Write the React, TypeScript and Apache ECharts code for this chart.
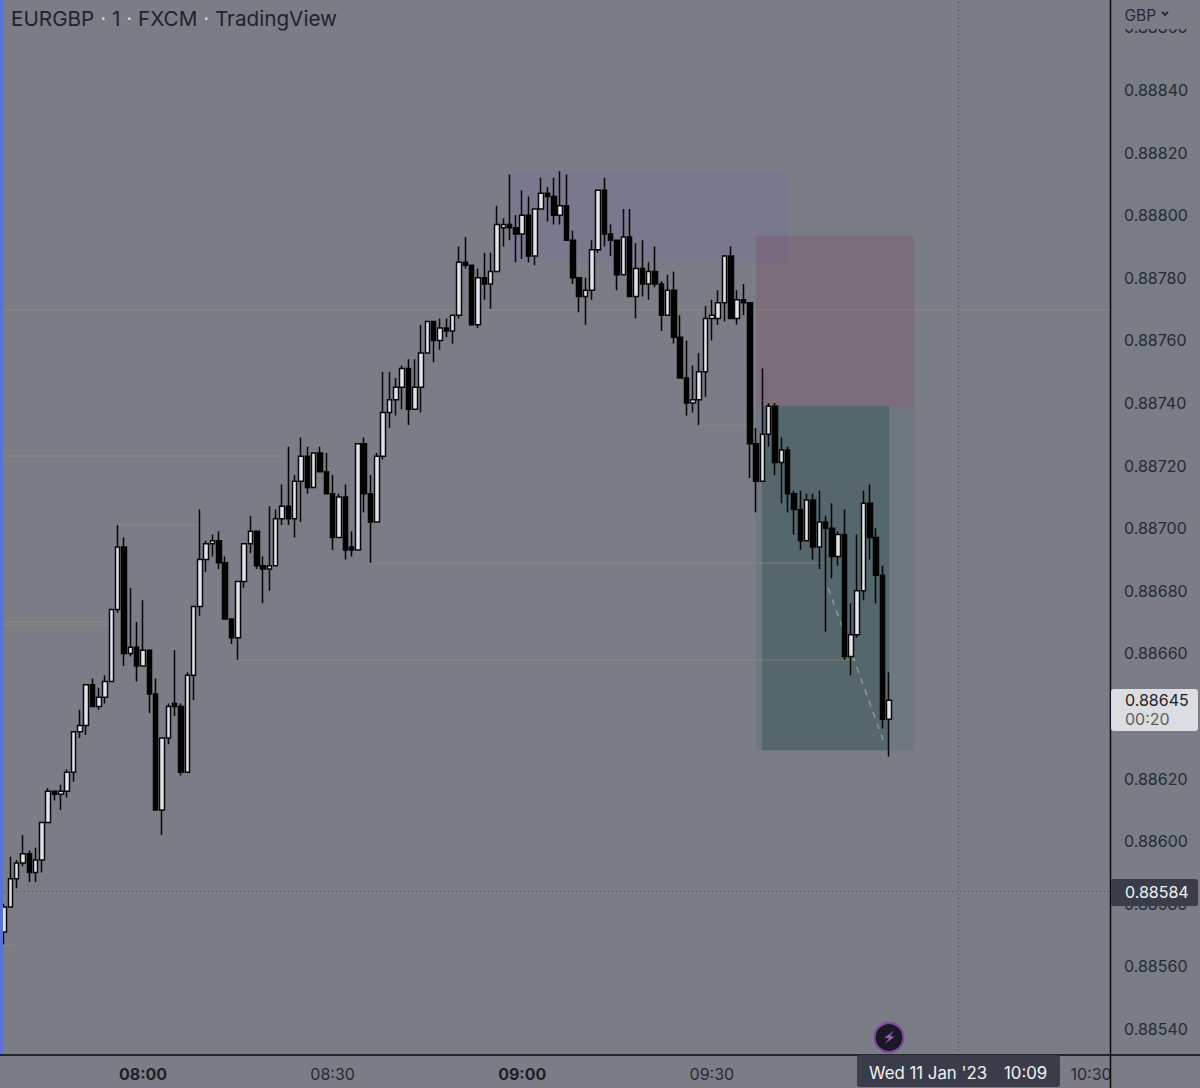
import React, { useEffect, useRef } from "react";
import * as echarts from "echarts";

// 1-minute EURGBP candles, first candle 07:38, Wed 11 Jan 2023
const firstMinute = 458;
const opens = [
  0.88571,0.88579,0.88588,0.88593,0.88596,0.88590,0.88594,0.88606,0.88616,0.88615,
  0.88616,0.88622,0.88635,0.88637,0.88650,0.88643,0.88646,0.88651,0.88674,0.88694,
  0.88660,0.88662,0.88656,0.88661,0.88647,0.88610,0.88633,0.88644,0.88643,0.88622,
  0.88653,0.88675,0.88690,0.88695,0.88696,0.88689,0.88671,0.88665,0.88683,0.88695,
  0.88699,0.88688,0.88687,0.88688,0.88703,0.88707,0.88703,0.88715,0.88723,0.88713,
  0.88724,0.88718,0.88711,0.88697,0.88710,0.88694,0.88693,0.88727,0.88711,0.88702,
  0.88723,0.88737,0.88741,0.88745,0.88751,0.88738,0.88745,0.88756,0.88766,0.88760,
  0.88764,0.88763,0.88768,0.88785,0.88784,0.88765,0.88780,0.88778,0.88782,0.88796,
  0.88797,0.88796,0.88794,0.88800,0.88787,0.88802,0.88807,0.88806,0.88800,0.88803,
  0.88792,0.88780,0.88774,0.88776,0.88789,0.88808,0.88794,0.88792,0.88781,0.88793,
  0.88774,0.88783,0.88778,0.88782,0.88778,0.88768,0.88776,0.88761,0.88748,0.88740,
  0.88741,0.88750,0.88767,0.88767,0.88772,0.88787,0.88767,0.88773,0.88772,0.88727,
  0.88715,0.88730,0.88739,0.88721,0.88725,0.88711,0.88706,0.88696,0.88709,0.88694,
  0.88702,0.88700,0.88691,0.88698,0.88659,0.88666,0.88680,0.88708,0.88697,0.88685,
  0.88639,
];
const closes = [
  0.88579,0.88588,0.88593,0.88596,0.88590,0.88594,0.88606,0.88616,0.88615,0.88616,
  0.88622,0.88635,0.88637,0.88650,0.88643,0.88646,0.88651,0.88674,0.88694,0.88660,
  0.88662,0.88656,0.88661,0.88647,0.88610,0.88633,0.88643,0.88643,0.88622,0.88653,
  0.88675,0.88690,0.88695,0.88696,0.88689,0.88671,0.88665,0.88683,0.88695,0.88699,
  0.88688,0.88687,0.88688,0.88703,0.88707,0.88703,0.88715,0.88723,0.88713,0.88724,
  0.88718,0.88711,0.88697,0.88710,0.88693,0.88693,0.88727,0.88711,0.88702,0.88723,
  0.88737,0.88741,0.88745,0.88751,0.88738,0.88745,0.88756,0.88766,0.88760,0.88764,
  0.88763,0.88768,0.88785,0.88784,0.88765,0.88780,0.88778,0.88782,0.88797,0.88797,
  0.88796,0.88794,0.88800,0.88787,0.88802,0.88807,0.88806,0.88800,0.88803,0.88792,
  0.88780,0.88774,0.88776,0.88789,0.88808,0.88794,0.88792,0.88781,0.88793,0.88774,
  0.88783,0.88778,0.88782,0.88778,0.88768,0.88776,0.88761,0.88748,0.88740,0.88741,
  0.88750,0.88767,0.88768,0.88772,0.88787,0.88767,0.88773,0.88772,0.88727,0.88715,
  0.88730,0.88739,0.88721,0.88725,0.88711,0.88706,0.88696,0.88709,0.88694,0.88702,
  0.88700,0.88691,0.88698,0.88659,0.88666,0.88680,0.88708,0.88697,0.88685,0.88639,
  0.88645,
];
const lows = [
  0.88567,0.88579,0.88585,0.88592,0.88587,0.88587,0.88590,0.88606,0.88613,0.88610,
  0.88614,0.88619,0.88633,0.88634,0.88643,0.88642,0.88644,0.88651,0.88673,0.88656,
  0.88659,0.88651,0.88656,0.88641,0.88610,0.88602,0.88631,0.88640,0.88621,0.88622,
  0.88645,0.88672,0.88686,0.88691,0.88687,0.88671,0.88663,0.88658,0.88681,0.88692,
  0.88687,0.88676,0.88680,0.88688,0.88701,0.88701,0.88697,0.88702,0.88711,0.88713,
  0.88718,0.88711,0.88693,0.88697,0.88690,0.88691,0.88693,0.88705,0.88689,0.88702,
  0.88722,0.88732,0.88736,0.88738,0.88733,0.88738,0.88737,0.88756,0.88753,0.88757,
  0.88761,0.88759,0.88767,0.88783,0.88765,0.88764,0.88773,0.88770,0.88782,0.88790,
  0.88792,0.88785,0.88786,0.88785,0.88784,0.88802,0.88798,0.88797,0.88797,0.88792,
  0.88778,0.88769,0.88765,0.88773,0.88788,0.88790,0.88787,0.88776,0.88781,0.88774,
  0.88767,0.88774,0.88773,0.88777,0.88763,0.88768,0.88759,0.88748,0.88736,0.88737,
  0.88733,0.88742,0.88760,0.88765,0.88766,0.88767,0.88765,0.88768,0.88716,0.88705,
  0.88715,0.88726,0.88717,0.88708,0.88705,0.88698,0.88693,0.88696,0.88690,0.88687,
  0.88667,0.88684,0.88688,0.88658,0.88653,0.88665,0.88677,0.88690,0.88676,0.88636,
  0.88627,
];
const highs = [
  0.88580,0.88595,0.88594,0.88602,0.88597,0.88598,0.88606,0.88617,0.88616,0.88618,
  0.88623,0.88635,0.88642,0.88650,0.88652,0.88649,0.88653,0.88674,0.88701,0.88697,
  0.88681,0.88670,0.88677,0.88661,0.88652,0.88633,0.88644,0.88661,0.88644,0.88654,
  0.88675,0.88706,0.88696,0.88698,0.88699,0.88691,0.88671,0.88683,0.88695,0.88704,
  0.88699,0.88691,0.88707,0.88706,0.88714,0.88726,0.88717,0.88729,0.88726,0.88724,
  0.88726,0.88724,0.88717,0.88711,0.88714,0.88699,0.88727,0.88729,0.88717,0.88724,
  0.88750,0.88750,0.88748,0.88752,0.88754,0.88754,0.88765,0.88766,0.88766,0.88767,
  0.88767,0.88768,0.88790,0.88793,0.88784,0.88783,0.88788,0.88788,0.88803,0.88799,
  0.88813,0.88800,0.88808,0.88806,0.88802,0.88812,0.88809,0.88812,0.88814,0.88813,
  0.88795,0.88780,0.88780,0.88792,0.88808,0.88812,0.88797,0.88792,0.88802,0.88802,
  0.88791,0.88792,0.88785,0.88790,0.88779,0.88781,0.88782,0.88768,0.88760,0.88752,
  0.88756,0.88771,0.88773,0.88776,0.88787,0.88790,0.88776,0.88778,0.88772,0.88732,
  0.88751,0.88740,0.88740,0.88729,0.88726,0.88712,0.88712,0.88711,0.88711,0.88712,
  0.88704,0.88708,0.88699,0.88706,0.88676,0.88698,0.88712,0.88714,0.88700,0.88688,
  0.88654,
];

const priceTicks = [
  0.8886,0.8884,0.8882,0.888,0.8878,0.8876,0.8874,0.8872,0.887,0.8868,0.8866,
  0.8862,0.886,0.8858,0.8856,0.8854,
];
const timeTicks = [480, 510, 540, 570, 630];

const lastPrice = "0.88645";
const countdown = "00:20";
const crossPrice = 0.88584;
const crossMinute = 609;

// horizontal levels: price, fromMinute, toMinute
const levelPrices = [0.887697, 0.88723, 0.88701, 0.88689, 0.8867, 0.88669, 0.88658, 0.88733, 0.88567];
const levelStarts = [457.4, 457.4, 475.6, 515.9, 457.4, 457.4, 495, 568, 457.4];
const levelEnds = [633, 502.5, 489, 588, 474.8, 474.8, 592.7, 576, 459.8];

const axisMinPrice = 0.885317;
const axisMaxPrice = 0.8886875;
const axisMinMinute = 457.37;
const axisMaxMinute = 633;

const fontFamily = "Inter, 'Noto Sans', sans-serif";
const bg = "#7a7d85";
const textDark = "#262936";

function minuteLabel(v: number) {
  const h = Math.floor(v / 60);
  const m = v % 60;
  const s = `${String(h).padStart(2, "0")}:${String(m).padStart(2, "0")}`;
  return m === 0 ? `{b|${s}}` : s;
}

export default function App() {
  const ref = useRef<HTMLDivElement>(null);
  useEffect(() => {
    document.body.style.margin = "0";
    const chart = echarts.init(ref.current!, undefined, { renderer: "svg" });
    const rows = opens.map((o, i) => [firstMinute + i, o, closes[i], lows[i], highs[i]]);
    const zoneData: any[] = [
      [
        { coord: [538.07, 0.888141], itemStyle: { color: "rgba(118,100,170,0.2)" } },
        { coord: [582.05, 0.88785] },
      ],
      [
        { coord: [577, 0.887934], itemStyle: { color: "rgba(125,75,100,0.3)" } },
        { coord: [602, 0.88739] },
      ],
      [
        { coord: [577, 0.88739], itemStyle: { color: "rgba(80,105,120,0.25)" } },
        { coord: [602, 0.886291] },
      ],
      [
        { coord: [577.94, 0.88739], itemStyle: { color: "rgba(50,80,78,0.42)" } },
        { coord: [598.04, 0.886291] },
      ],
    ];
    const levelLines: any[] = levelPrices.map((p, i) => [
      {
        coord: [levelStarts[i], p],
        lineStyle: { color: "rgba(165,150,115,0.32)", width: 1.5, type: "solid" },
      },
      { coord: [levelEnds[i], p] },
    ]);
    const crossStyle = { color: "rgba(50,52,60,0.7)", width: 1, type: [1, 3] };
    const crossLines: any[] = [
      [
        { coord: [axisMinMinute, crossPrice], lineStyle: crossStyle },
        { coord: [axisMaxMinute, crossPrice] },
      ],
      [
        { coord: [crossMinute, axisMinPrice], lineStyle: crossStyle },
        { coord: [crossMinute, axisMaxPrice] },
      ],
      [
        {
          coord: [588.4, 0.886809],
          lineStyle: { color: "rgba(205,210,210,0.45)", width: 1.5, type: [6, 6] },
        },
        { coord: [597.4, 0.886307] },
      ],
    ];
    chart.setOption({
      animation: false,
      backgroundColor: bg,
      textStyle: { fontFamily },
      grid: { left: 0, top: 0, width: 1110, height: 1055 },
      xAxis: {
        type: "value",
        min: axisMinMinute,
        max: axisMaxMinute,
        axisLine: { show: false },
        axisTick: { show: false },
        splitLine: { show: false },
        axisLabel: {
          customValues: timeTicks,
          formatter: minuteLabel,
          color: textDark,
          fontFamily,
          fontSize: 16,
          margin: 11,
          rich: { b: { fontWeight: 700, fontSize: 16, color: "#1c1e28", fontFamily } },
        },
      },
      yAxis: {
        type: "value",
        position: "right",
        min: axisMinPrice,
        max: axisMaxPrice,
        axisLine: { show: false },
        axisTick: { show: false },
        splitLine: { show: false },
        axisLabel: {
          customValues: priceTicks,
          formatter: (v: number) => v.toFixed(5),
          color: textDark,
          fontFamily,
          fontSize: 16,
          margin: 14,
        },
      },
      series: [
        {
          type: "candlestick",
          encode: { x: 0, y: [1, 2, 3, 4] },
          data: rows,
          barWidth: 5,
          z: 3,
          itemStyle: {
            color: "#e2e3e8",
            color0: "#030303",
            borderColor: "#08080a",
            borderColor0: "#030303",
            borderWidth: 1.5,
          },
          markArea: { silent: true, z: 1, label: { show: false }, data: zoneData },
          markLine: {
            silent: true,
            z: 2,
            symbol: "none",
            label: { show: false },
            data: [...levelLines, ...crossLines],
          },
        },
      ],
      graphic: [
        { type: "rect", z: 100, shape: { x: 1111, y: 0, width: 89, height: 29 }, style: { fill: bg } },
        { type: "rect", z: 100, shape: { x: 1111, y: 1056, width: 89, height: 32 }, style: { fill: bg } },
        { type: "rect", z: 100, shape: { x: 0, y: 0, width: 3, height: 1055 }, style: { fill: "#5a72d8" } },
        { type: "line", z: 101, shape: { x1: 0, y1: 1055, x2: 1200, y2: 1055 }, style: { stroke: "#0a0a0c", lineWidth: 1.5 } },
        { type: "line", z: 101, shape: { x1: 1110.5, y1: 0, x2: 1110.5, y2: 1088 }, style: { stroke: "#0a0a0c", lineWidth: 1.5 } },
        {
          type: "text",
          z: 102,
          x: 11,
          y: 18,
          style: {
            text: "EURGBP {d|·} 1 {d|·} FXCM {d|·} TradingView",
            fill: "#1f2230",
            fontFamily,
            fontSize: 20.7,
            verticalAlign: "middle",
            rich: { d: { fill: "#d4d5da", fontFamily, fontSize: 20.7 } },
          },
        },
        {
          type: "text",
          z: 102,
          x: 1124.5,
          y: 15,
          style: { text: "GBP", fill: textDark, fontFamily, fontSize: 15.5, verticalAlign: "middle" },
        },
        {
          type: "polyline",
          z: 102,
          shape: { points: [[1162, 12], [1165, 15], [1168, 12]] },
          style: { stroke: textDark, lineWidth: 1.8, fill: "none" },
        },
        { type: "rect", z: 102, shape: { x: 1111, y: 689, width: 87, height: 42, r: 3 }, style: { fill: "#dcdde1" } },
        {
          type: "text",
          z: 103,
          x: 1125,
          y: 700,
          style: { text: lastPrice, fill: "#20222c", fontFamily, fontSize: 16, verticalAlign: "middle" },
        },
        {
          type: "text",
          z: 103,
          x: 1125,
          y: 719,
          style: { text: countdown, fill: "#5a5d68", fontFamily, fontSize: 16, verticalAlign: "middle" },
        },
        { type: "rect", z: 102, shape: { x: 1111, y: 879, width: 87, height: 27, r: 2 }, style: { fill: "#3a3d49" } },
        {
          type: "text",
          z: 103,
          x: 1125,
          y: 892,
          style: { text: crossPrice.toFixed(5), fill: "#f2f2f4", fontFamily, fontSize: 16, verticalAlign: "middle" },
        },
        { type: "rect", z: 102, shape: { x: 857, y: 1055, width: 203, height: 32, r: 3 }, style: { fill: "#3a3d49" } },
        {
          type: "text",
          z: 103,
          x: 869,
          y: 1073,
          style: { text: "Wed 11 Jan '23", fill: "#f2f2f4", fontFamily, fontSize: 16.8, verticalAlign: "middle" },
        },
        {
          type: "text",
          z: 103,
          x: 1004,
          y: 1073,
          style: { text: "10:09", fill: "#f2f2f4", fontFamily, fontSize: 16.8, verticalAlign: "middle" },
        },
        {
          type: "circle",
          z: 102,
          shape: { cx: 889, cy: 1037.5, r: 14.5 },
          style: { fill: "#1a1826", stroke: "#7d4a9e", lineWidth: 2.2 },
        },
        {
          type: "polygon",
          z: 103,
          shape: {
            points: [[894, 1030.5], [884.5, 1037.8], [889.3, 1038.3], [884.5, 1044], [894.5, 1036.7], [890, 1036]],
          },
          style: { fill: "#9a5fc4" },
        },
      ],
    });
    return () => chart.dispose();
  }, []);
  return <div ref={ref} style={{ position: "absolute", left: 0, top: 0, width: 1200, height: 1088 }} />;
}
